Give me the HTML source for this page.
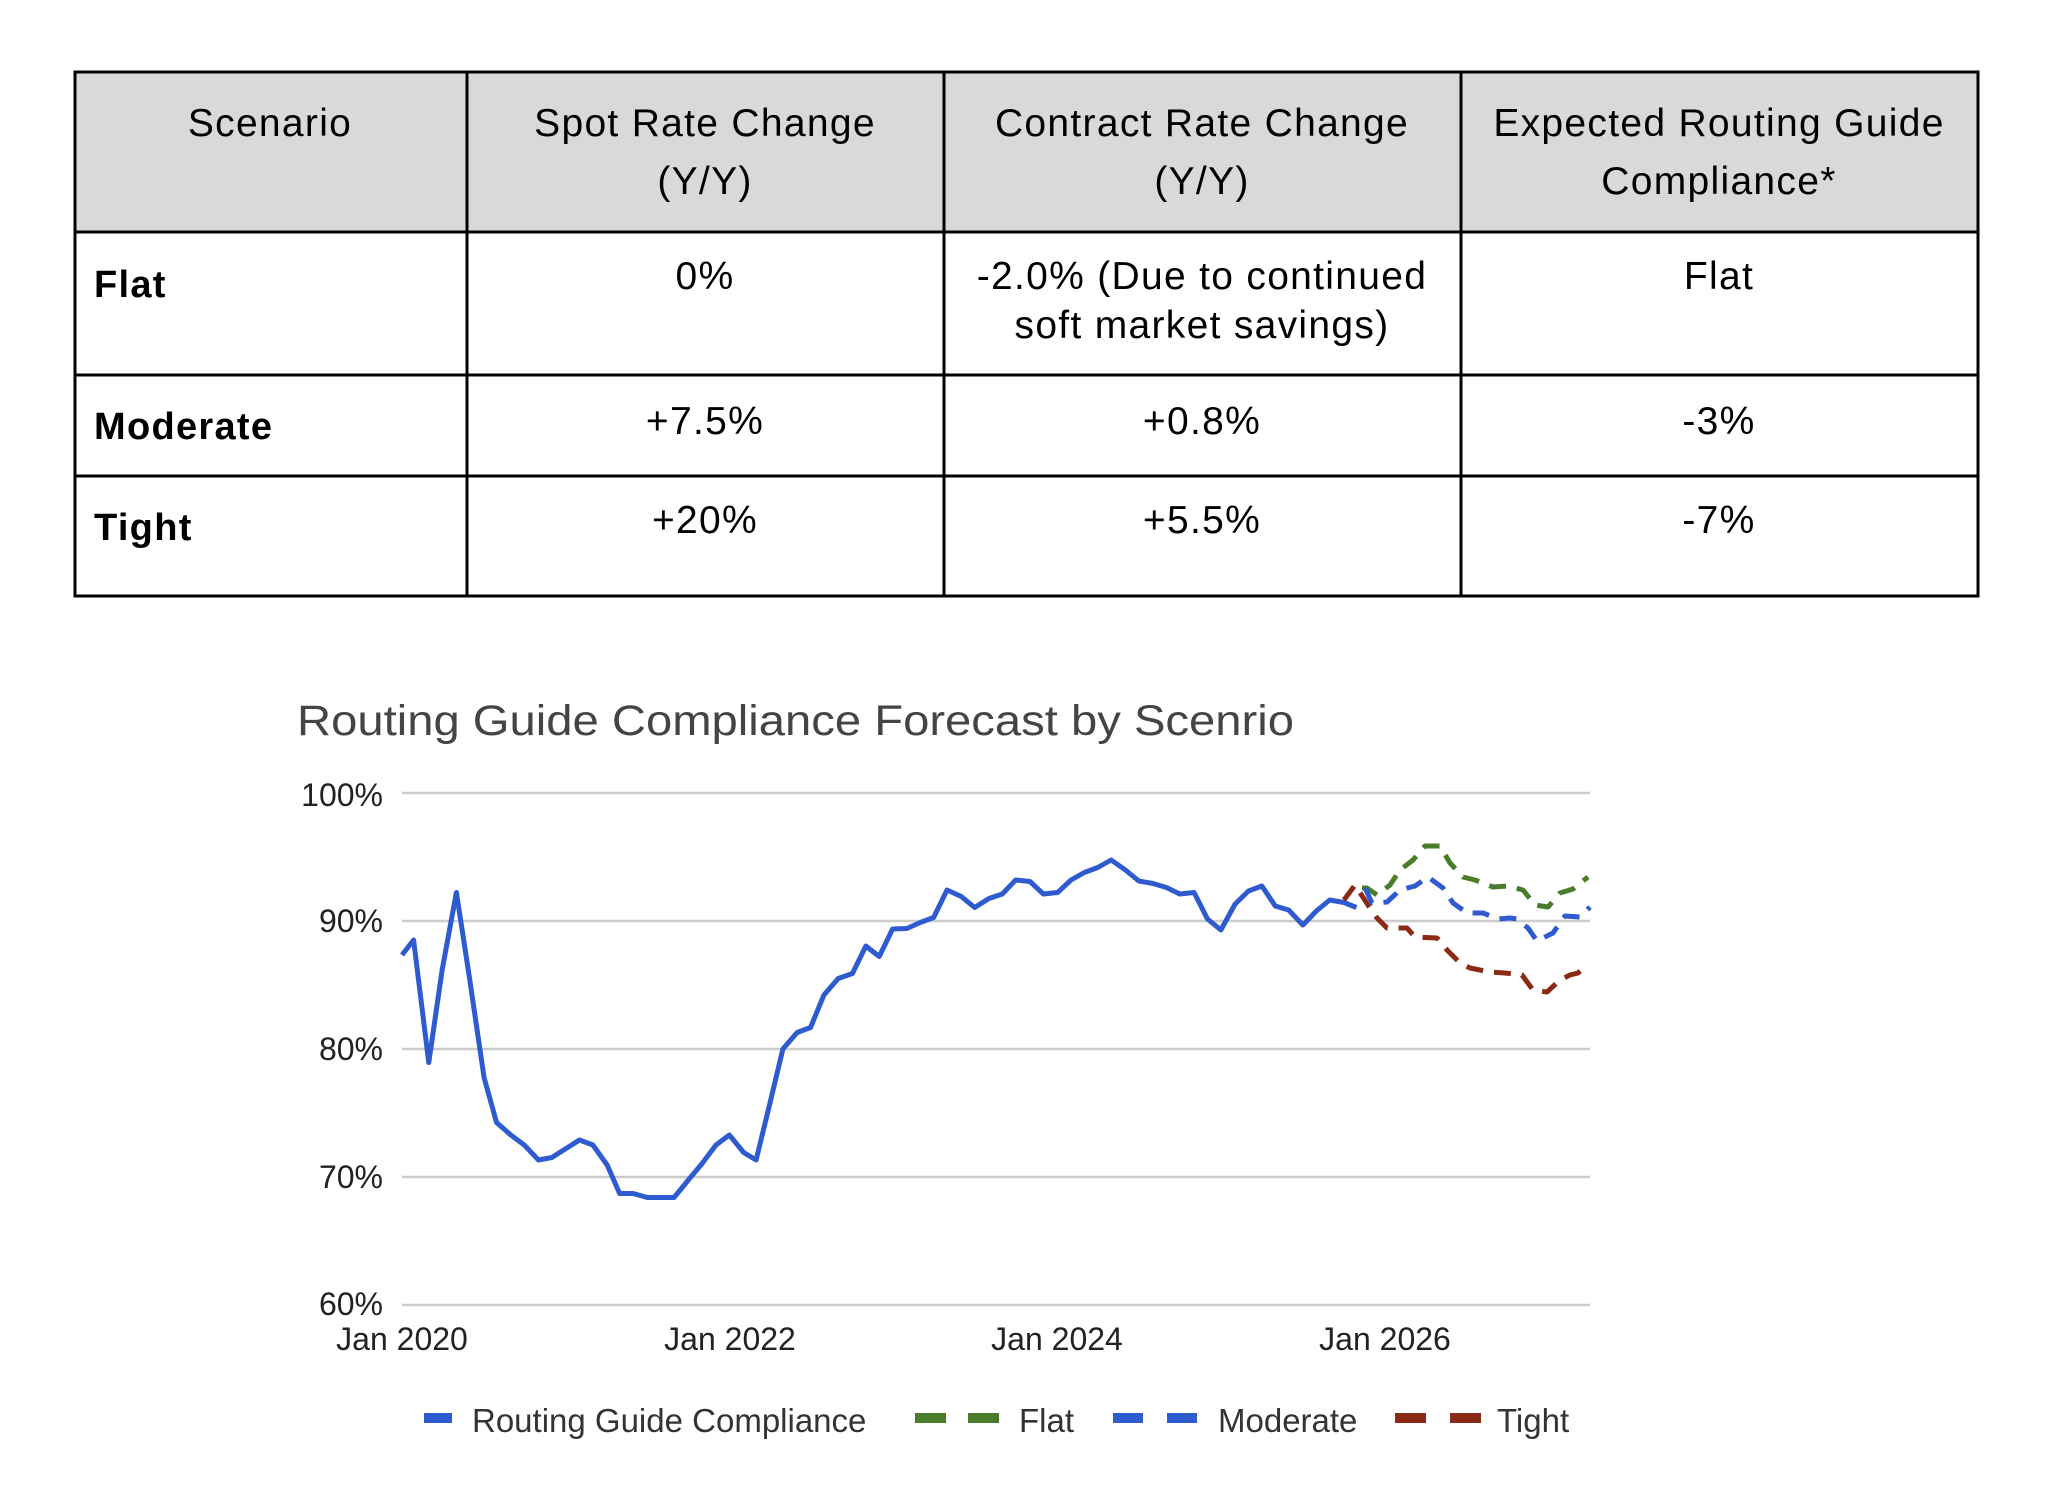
<!DOCTYPE html>
<html><head><meta charset="utf-8"><style>
html,body{margin:0;padding:0;background:#fff;}
svg{display:block;}
</style></head><body>
<svg width="2058" height="1502" viewBox="0 0 2058 1502" xmlns="http://www.w3.org/2000/svg">
<rect width="2058" height="1502" fill="#fff"/>
<!-- table -->
<rect x="75" y="72" width="1903" height="160" fill="#d9d9d9"/>
<g stroke="#000" stroke-width="3" fill="none">
<rect x="75" y="72" width="1903" height="524"/>
<line x1="75" y1="232" x2="1978" y2="232"/>
<line x1="75" y1="375" x2="1978" y2="375"/>
<line x1="75" y1="476" x2="1978" y2="476"/>
<line x1="467" y1="72" x2="467" y2="596"/>
<line x1="944" y1="72" x2="944" y2="596"/>
<line x1="1461" y1="72" x2="1461" y2="596"/>
</g>
<g font-family="Liberation Sans, sans-serif" font-size="39" fill="#000" text-anchor="middle" letter-spacing="1.3">
<text x="270" y="136">Scenario</text>
<text x="705" y="136">Spot Rate Change</text>
<text x="705" y="194">(Y/Y)</text>
<text x="1202" y="136">Contract Rate Change</text>
<text x="1202" y="194">(Y/Y)</text>
<text x="1719" y="136">Expected Routing Guide</text>
<text x="1719" y="194">Compliance*</text>
<text x="705" y="289">0%</text>
<text x="1202" y="289">-2.0% (Due to continued</text>
<text x="1202" y="338">soft market savings)</text>
<text x="1719" y="289">Flat</text>
<text x="705" y="434">+7.5%</text>
<text x="1202" y="434">+0.8%</text>
<text x="1719" y="434">-3%</text>
<text x="705" y="533">+20%</text>
<text x="1202" y="533">+5.5%</text>
<text x="1719" y="533">-7%</text>
</g>
<g font-family="Liberation Sans, sans-serif" font-size="38" font-weight="bold" fill="#000" letter-spacing="1.3">
<text x="94" y="297">Flat</text>
<text x="94" y="439">Moderate</text>
<text x="94" y="540">Tight</text>
</g>
<!-- chart -->
<text x="297" y="735" font-family="Liberation Sans, sans-serif" font-size="43" fill="#444" textLength="997" lengthAdjust="spacingAndGlyphs">Routing Guide Compliance Forecast by Scenrio</text>
<g stroke="#cccccc" stroke-width="2.5">
<line x1="402" y1="793" x2="1590" y2="793"/>
<line x1="402" y1="921" x2="1590" y2="921"/>
<line x1="402" y1="1049" x2="1590" y2="1049"/>
<line x1="402" y1="1177" x2="1590" y2="1177"/>
<line x1="402" y1="1305" x2="1590" y2="1305"/>
</g>
<g font-family="Liberation Sans, sans-serif" font-size="32" fill="#222" text-anchor="end">
<text x="383" y="806">100%</text>
<text x="383" y="932">90%</text>
<text x="383" y="1060">80%</text>
<text x="383" y="1188">70%</text>
<text x="383" y="1315">60%</text>
</g>
<g font-family="Liberation Sans, sans-serif" font-size="32" fill="#222" text-anchor="middle">
<text x="402" y="1350">Jan 2020</text>
<text x="730" y="1350">Jan 2022</text>
<text x="1057" y="1350">Jan 2024</text>
<text x="1385" y="1350">Jan 2026</text>
</g>
<polyline transform="matrix(0.892 0 0 0.5 250.36 680)" vector-effect="non-scaling-stroke" fill="none" stroke="#2f5bd0" stroke-width="5" stroke-linejoin="round"
points="170,550 183,520 200,765 215,580 231,425 246,600 262,795 276,885 292,910 307,930 323,960 338,955 353,938 369,920 384,930 400,970 414,1027 429,1027 445,1035 460,1035 475,1035 491,1000 506,968 522,930 537,910 553,945 567,960 582,850 597,738 613,705 628,695 643,630 659,597 675,587 690,532 705,553 720,498 736,497 751,485 766,475 781,420 797,433 812,455 828,437 843,428 858,400 874,403 889,428 905,425 920,400 935,385 950,375 965,360 981,380 996,402 1012,407 1027,415 1042,428 1058,425 1073,478 1088,500 1104,448 1119,422 1134,412 1149,452 1164,460 1180,490 1195,462 1210,440 1226,445 1240,455"/>
<g fill="none" stroke-width="5" stroke-dasharray="17 11" stroke-linejoin="round">
<polyline stroke="#8a2a14" points="1344,900 1355,885 1368,905 1377,918 1387,928 1407,928 1415,937 1437,938 1447,950 1460,963 1470,968 1490,972 1505,973 1522,975 1533,990 1547,992 1560,980 1570,975 1578,973 1588,964"/>
<polyline stroke="#4a7d2b" points="1362,888 1367,888 1377,895 1390,885 1400,870 1413,860 1425,846 1440,846 1450,863 1463,877 1475,880 1493,887 1508,886 1523,890 1535,905 1548,907 1560,893 1573,889 1588,877"/>
<polyline stroke="#2f5bd0" points="1365,888 1372,903 1387,902 1400,890 1415,886 1428,877 1443,888 1453,903 1467,913 1483,913 1498,919 1510,918 1517,919 1528,928 1537,941 1553,933 1565,916 1580,917 1590,907"/>
</g>
<!-- legend -->
<rect x="424" y="1413" width="28" height="10" fill="#2f5bd0"/>
<rect x="915" y="1413" width="31" height="10" fill="#4a7d2b"/>
<rect x="968" y="1413" width="31" height="10" fill="#4a7d2b"/>
<rect x="1113" y="1413" width="30" height="10" fill="#2f5bd0"/>
<rect x="1167" y="1413" width="30" height="10" fill="#2f5bd0"/>
<rect x="1395" y="1413" width="31" height="10" fill="#8a2a14"/>
<rect x="1450" y="1413" width="31" height="10" fill="#8a2a14"/>
<g font-family="Liberation Sans, sans-serif" font-size="33" fill="#333">
<text x="472" y="1432">Routing Guide Compliance</text>
<text x="1019" y="1432">Flat</text>
<text x="1218" y="1432">Moderate</text>
<text x="1497" y="1432">Tight</text>
</g>
</svg>
</body></html>
